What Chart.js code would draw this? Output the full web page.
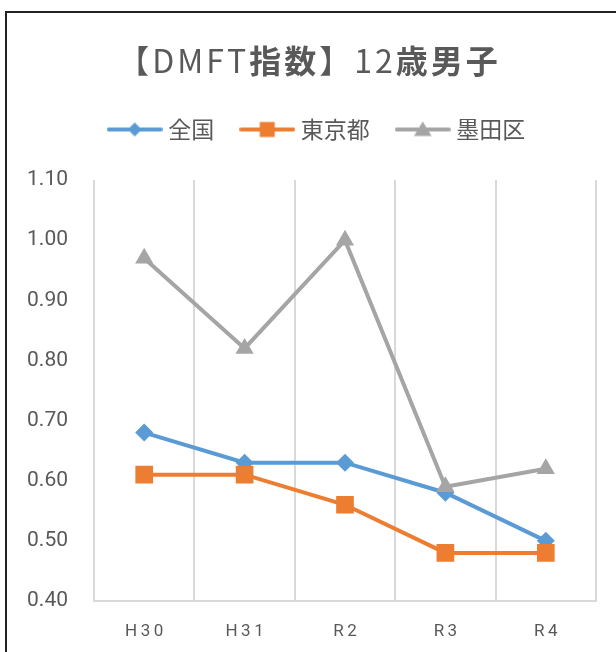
<!DOCTYPE html>
<html lang="ja">
<head>
<meta charset="utf-8">
<script src="https://cdn.jsdelivr.net/npm/chart.js@4.4.1/dist/chart.umd.min.js"></script>
<style>
  html, body { margin: 0; padding: 0; background: #fff; overflow: hidden; }
  #wrap { position: relative; width: 616px; height: 652px; }
  #frame { position: absolute; left: 5px; top: 11px; width: 700px; height: 700px;
           border: 2px solid #222; box-sizing: border-box; pointer-events: none; }
  #title { position: absolute; left: -6px; width: 630px; top: 36px; text-align: center;
           font-family: "Noto Sans CJK JP", "Noto Sans"; font-size: 32px; line-height: 46px;
           color: #595959; letter-spacing: 3px; }
  #title b { font-weight: 700; }
  canvas { position: absolute; left: 0; top: 0; }
</style>
</head>
<body>
<div id="wrap">
  <canvas id="chart" width="616" height="652"></canvas>
  <div id="title">【DMFT<b>指数</b>】12<b>歳男子</b></div>
  <div id="frame"></div>
</div>
<script>
var years = ['H30', 'H31', 'R2', 'R3', 'R4'];
var zenkoku = [0.68, 0.63, 0.63, 0.58, 0.50];
var tokyo = [0.61, 0.61, 0.56, 0.48, 0.48];
var sumida = [0.97, 0.82, 1.00, 0.59, 0.62];
var yMin = 0.40, yMax = 1.10, yStep = 0.10;

var textColor = '#595959';
var gridColor = '#d9d9d9';

// small line + marker picture used as the legend symbol
function legendIcon(color, shape, size) {
    var c = document.createElement('canvas');
    c.width = 56; c.height = 24;
    var ctx = c.getContext('2d');
    ctx.strokeStyle = color;
    ctx.fillStyle = color;
    ctx.lineWidth = 4;
    ctx.lineCap = 'round';
    ctx.beginPath();
    ctx.moveTo(2, 12);
    ctx.lineTo(54, 12);
    ctx.stroke();
    ctx.beginPath();
    if (shape == 'diamond') {
        ctx.moveTo(28, 12 - size); ctx.lineTo(28 + size, 12);
        ctx.lineTo(28, 12 + size); ctx.lineTo(28 - size, 12);
    } else if (shape == 'square') {
        ctx.rect(28 - size, 12 - size, size * 2, size * 2);
    } else {
        ctx.moveTo(28, 12 - size); ctx.lineTo(28 + size * 1.1, 12 + size * 0.8);
        ctx.lineTo(28 - size * 1.1, 12 + size * 0.8);
    }
    ctx.closePath();
    ctx.fill();
    return c;
}

var icons = [
    legendIcon('#5b9bd5', 'diamond', 7),
    legendIcon('#ed7d31', 'square', 7.5),
    legendIcon('#a5a5a5', 'triangle', 8)
];

// give the legend a fixed band and nudge it right, over the plot
var legendRoom = {
    id: 'legendRoom',
    beforeInit: function (chart) {
        var fit = chart.legend.fit;
        chart.legend.fit = function () {
            fit.bind(chart.legend)();
            this.height = 93;
        };
    },
    afterLayout: function (chart) {
        chart.legend.left += 21;
        chart.legend.right += 21;
    }
};

var ctx = document.getElementById('chart').getContext('2d');
var myChart = new Chart(ctx, {
    type: 'line',
    data: {
        labels: years,
        datasets: [{
            label: '全国',
            data: zenkoku,
            borderColor: '#5b9bd5',
            backgroundColor: '#5b9bd5',
            pointStyle: 'rectRot',
            pointRadius: 9,
            order: 3
        }, {
            label: '東京都',
            data: tokyo,
            borderColor: '#ed7d31',
            backgroundColor: '#ed7d31',
            pointStyle: 'rect',
            pointRadius: 12.5,
            order: 2
        }, {
            label: '墨田区',
            data: sumida,
            borderColor: '#a5a5a5',
            backgroundColor: '#a5a5a5',
            pointStyle: 'triangle',
            pointRadius: 10.5,
            order: 1
        }]
    },
    options: {
        responsive: false,
        animation: false,
        events: [],
        layout: { padding: { top: 87, right: 20, left: 0, bottom: 0 } },
        elements: {
            line: { borderWidth: 4, tension: 0, fill: false },
            point: { borderWidth: 0, hoverRadius: 0 }
        },
        plugins: {
            title: { display: false },
            tooltip: { enabled: false },
            legend: {
                position: 'top',
                labels: {
                    usePointStyle: true,
                    pointStyleWidth: 44,
                    padding: 31,
                    color: textColor,
                    font: { family: '"Noto Sans CJK JP"', size: 23 },
                    generateLabels: function (chart) {
                        return chart.data.datasets.map(function (ds, i) {
                            return {
                                text: ds.label,
                                pointStyle: icons[i],
                                fontColor: textColor,
                                lineWidth: 0,
                                datasetIndex: i
                            };
                        });
                    }
                }
            }
        },
        scales: {
            x: {
                offset: true,
                grid: { offset: true, color: gridColor, lineWidth: 2, drawTicks: false },
                border: { color: gridColor, width: 2 },
                ticks: {
                    color: textColor,
                    padding: 21,
                    font: { family: 'Roboto', size: 17 },
                    callback: function (v) {
                        return this.getLabelForValue(v).split('').join('\u2009');
                    }
                },
                afterFit: function (scale) { scale.height = 51; }
            },
            y: {
                min: yMin,
                max: yMax,
                grid: { display: false, drawTicks: false },
                border: { display: false },
                ticks: {
                    stepSize: yStep,
                    color: textColor,
                    padding: 26,
                    font: { family: 'Roboto', size: 21 },
                    callback: function (v) { return v.toFixed(2); }
                },
                afterFit: function (scale) { scale.width = 94; }
            }
        }
    },
    plugins: [legendRoom]
});
</script>
</body>
</html>
